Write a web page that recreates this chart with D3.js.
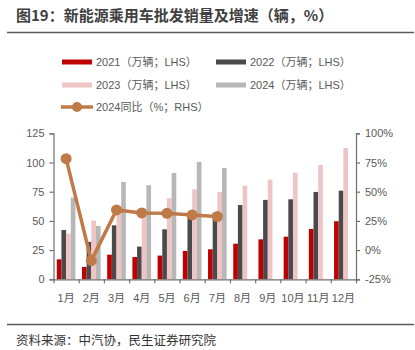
<!DOCTYPE html>
<html>
<head>
<meta charset="utf-8">
<script src="https://cdn.jsdelivr.net/npm/d3@7"></script>
<style>
  body { margin: 0; background: #fff; }
  text { font-family: "Liberation Sans", "Noto Sans CJK SC", sans-serif; }
</style>
</head>
<body>
<script>
// data
const months = ['1月', '2月', '3月', '4月', '5月', '6月', '7月', '8月', '9月', '10月', '11月', '12月'];
const sales2021 = [17.1, 10.6, 21.1, 19.1, 20.3, 24.3, 25.7, 30.5, 34.2, 36.5, 43.1, 49.7];
const sales2022 = [42.2, 32.0, 46.2, 28.0, 42.8, 55.0, 57.0, 63.6, 68.0, 68.5, 74.8, 75.9];
const sales2023 = [39.1, 50.2, 61.7, 60.6, 69.4, 77.0, 74.8, 80.2, 85.3, 91.3, 97.9, 112.4];
const sales2024 = [69.9, 45.7, 83.3, 80.5, 91.0, 100.5, 95.3];
const yoy2024 = [78.3, -9.0, 34.4, 31.8, 31.5, 30.1, 28.7];
const leftTicks = [0, 25, 50, 75, 100, 125];
const rightTicks = [-25, 0, 25, 50, 75, 100];

const W = 415, H = 350;
const DM = { left: 53.5, right: 356, top: 133.3, bottom: 279.3 };

const series = [
  { name: '2021（万辆；LHS）', values: sales2021, color: '#C00000' },
  { name: '2022（万辆；LHS）', values: sales2022, color: '#4A4A4C' },
  { name: '2023（万辆；LHS）', values: sales2023, color: '#EEC4C4' },
  { name: '2024（万辆；LHS）', values: sales2024, color: '#B7B7B7' }
];
const lineColor = '#C07A48';

const SVG = d3.select('body').append('svg')
              .attr('width', W)
              .attr('height', H);

// title
SVG.append('text')
   .attr('x', 16).attr('y', 21)
   .attr('font-size', 15).attr('font-weight', 'bold')
   .attr('fill', '#404040')
   .style('font-family', '"Noto Sans CJK SC", sans-serif')
   .text('图19：新能源乘用车批发销量及增速（辆，%）');

SVG.append('line')
   .attr('x1', 7).attr('x2', 414).attr('y1', 32.5).attr('y2', 32.5)
   .attr('stroke', '#5a5a5a').attr('stroke-width', 1.5);

// legend
const legendPos = [[62, 62], [216, 62], [62, 85], [216, 85]];
series.forEach((s, i) => {
  const [lx, ly] = legendPos[i];
  SVG.append('rect')
     .attr('x', lx).attr('y', ly - 2.5).attr('width', 30).attr('height', 5)
     .attr('fill', s.color);
  SVG.append('text')
     .attr('x', lx + 34).attr('y', ly + 4)
     .attr('font-size', 11).attr('fill', '#595959')
     .text(s.name);
});
SVG.append('line')
   .attr('x1', 61).attr('x2', 93).attr('y1', 107).attr('y2', 107)
   .attr('stroke', lineColor).attr('stroke-width', 3.5);
SVG.append('circle')
   .attr('cx', 77).attr('cy', 107).attr('r', 5)
   .attr('fill', lineColor);
SVG.append('text')
   .attr('x', 96).attr('y', 111)
   .attr('font-size', 11).attr('fill', '#595959')
   .text('2024同比（%；RHS）');

// scales
const xScale = d3.scaleBand()
                 .domain(months)
                 .range([DM.left, DM.right])
                 .paddingInner(0.26)
                 .paddingOuter(0.13);
const xSub = d3.scaleBand()
               .domain(d3.range(series.length))
               .range([0, xScale.bandwidth()]);
const yLeft = d3.scaleLinear().domain([0, 125]).range([DM.bottom, DM.top]);
const yRight = d3.scaleLinear().domain([-25, 100]).range([DM.bottom, DM.top]);

// bars
series.forEach((s, si) => {
  SVG.append('g').selectAll('rect')
     .data(s.values)
     .enter()
     .append('rect')
     .attr('x', (d, i) => xScale(months[i]) + xSub(si))
     .attr('width', xSub.bandwidth())
     .attr('y', d => yLeft(d))
     .attr('height', d => DM.bottom - yLeft(d))
     .attr('fill', s.color);
});

// axes
const axisColor = '#6f6f6f';
const labelColor = '#595959';

const leftAxis = SVG.append('g')
   .attr('transform', `translate(${DM.left},0)`)
   .call(d3.axisLeft(yLeft).tickValues(leftTicks).tickSizeOuter(0).tickSize(4).tickPadding(5));
const rightAxis = SVG.append('g')
   .attr('transform', `translate(${DM.right},0)`)
   .call(d3.axisRight(yRight).tickValues(rightTicks).tickFormat(d => d + '%').tickSizeOuter(0).tickSize(4).tickPadding(5));

// x axis: ticks at band boundaries
const xBound = d3.scaleLinear().domain([0, months.length]).range([DM.left, DM.right]);
const bottomAxis = SVG.append('g')
   .attr('transform', `translate(0,${DM.bottom})`)
   .call(d3.axisBottom(xBound).tickValues(d3.range(months.length + 1)).tickFormat('').tickSize(4).tickSizeOuter(0));
SVG.append('g').selectAll('text')
   .data(months)
   .enter()
   .append('text')
   .attr('x', d => xScale(d) + xScale.bandwidth() / 2)
   .attr('y', 302)
   .attr('text-anchor', 'middle')
   .attr('font-size', 11).attr('fill', labelColor)
   .text(d => d);

[leftAxis, rightAxis, bottomAxis].forEach(a => {
  a.select('.domain').attr('stroke', axisColor).attr('stroke-width', 1.2);
  a.selectAll('.tick line').attr('stroke', axisColor).attr('stroke-width', 1.2);
  a.selectAll('.tick text').attr('fill', labelColor).attr('font-size', 11)
   .style('font-family', '"Liberation Sans", sans-serif');
});

// yoy line
const cx = (d, i) => xScale(months[i]) + xScale.bandwidth() / 2;
const valueLine = d3.line()
                    .x(cx)
                    .y(d => yRight(d));
SVG.append('path')
   .datum(yoy2024)
   .attr('d', valueLine)
   .attr('fill', 'none')
   .attr('stroke', lineColor)
   .attr('stroke-width', 3.5);
SVG.append('g').selectAll('circle')
   .data(yoy2024)
   .enter()
   .append('circle')
   .attr('cx', cx)
   .attr('cy', d => yRight(d))
   .attr('r', 5.5)
   .attr('fill', lineColor);

// source
SVG.append('line')
   .attr('x1', 7).attr('x2', 414).attr('y1', 324.5).attr('y2', 324.5)
   .attr('stroke', '#5a5a5a').attr('stroke-width', 1.5);
SVG.append('text')
   .attr('x', 16).attr('y', 345)
   .attr('font-size', 12.5).attr('fill', '#333')
   .style('font-family', '"Noto Sans CJK SC", sans-serif')
   .text('资料来源：中汽协，民生证券研究院');
</script>
</body>
</html>
